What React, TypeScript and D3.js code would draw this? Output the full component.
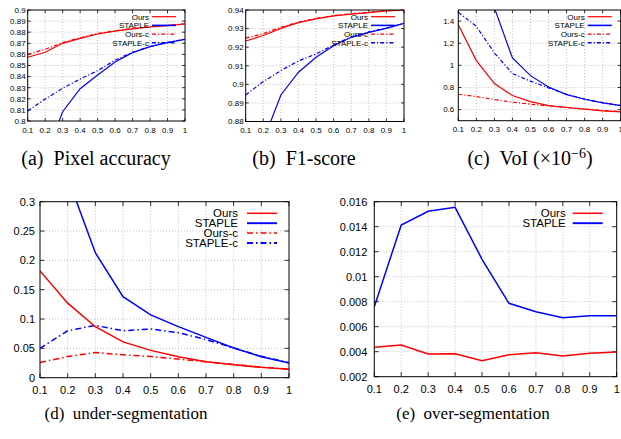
import React, { useRef, useEffect } from "react";
import * as d3 from "d3";

// x axis shared by every panel (threshold)
const X_VALUES = [0.1, 0.2, 0.3, 0.4, 0.5, 0.6, 0.7, 0.8, 0.9, 1];
const X_TICKS = [0.1, 0.2, 0.3, 0.4, 0.5, 0.6, 0.7, 0.8, 0.9, 1];

// (a) pixel accuracy
const A_Y_TICKS = [0.8, 0.81, 0.82, 0.83, 0.84, 0.85, 0.86, 0.87, 0.88, 0.89, 0.9];
const A_OURS = [0.8574, 0.8619, 0.87, 0.8745, 0.8784, 0.881, 0.883, 0.8847, 0.886, 0.8874];
const A_STAPLE = [0.735, 0.7664, 0.8084, 0.8291, 0.8414, 0.8532, 0.8616, 0.867, 0.8706, 0.8736];
const A_OURS_C = [0.86, 0.8646, 0.8706, 0.875, 0.8788, 0.8813, 0.8833, 0.885, 0.8862, 0.8876];
const A_STAPLE_C = [0.809, 0.8198, 0.8294, 0.8378, 0.8453, 0.8548, 0.862, 0.867, 0.8708, 0.8738];

// (b) F1-score
const B_Y_TICKS = [0.88, 0.89, 0.9, 0.91, 0.92, 0.93, 0.94];
const B_OURS = [0.9233, 0.9263, 0.9301, 0.9332, 0.9352, 0.9368, 0.9378, 0.9386, 0.9395, 0.94];
const B_STAPLE = [0.85, 0.8696, 0.8943, 0.9065, 0.9146, 0.9208, 0.9253, 0.928, 0.9301, 0.9328];
const B_OURS_C = [0.9249, 0.9273, 0.9307, 0.9335, 0.9355, 0.937, 0.938, 0.9388, 0.9396, 0.9401];
const B_STAPLE_C = [0.8943, 0.9015, 0.9074, 0.9126, 0.9163, 0.9212, 0.9255, 0.9282, 0.9303, 0.9329];

// (c) VoI
const C_Y_TICKS = [0.6, 0.8, 1, 1.2, 1.4];
const C_OURS = [1.367, 1.043, 0.835, 0.727, 0.673, 0.637, 0.619, 0.604, 0.589, 0.58];
const C_STAPLE = [2.6, 2.0, 1.52, 1.067, 0.907, 0.805, 0.736, 0.694, 0.661, 0.637];
const C_OURS_C = [0.739, 0.718, 0.691, 0.667, 0.649, 0.634, 0.619, 0.605, 0.592, 0.583];
const C_STAPLE_C = [1.48, 1.352, 1.112, 0.926, 0.857, 0.797, 0.739, 0.696, 0.663, 0.638];

// (d) under-segmentation
const D_Y_TICKS = [0, 0.05, 0.1, 0.15, 0.2, 0.25, 0.3];
const D_OURS = [0.182, 0.127, 0.0869, 0.061, 0.0466, 0.0358, 0.0273, 0.022, 0.0176, 0.0142];
const D_STAPLE = [0.46, 0.341, 0.213, 0.138, 0.107, 0.087, 0.0688, 0.0506, 0.0358, 0.025];
const D_OURS_C = [0.026, 0.036, 0.043, 0.039, 0.036, 0.0318, 0.027, 0.0227, 0.018, 0.0148];
const D_STAPLE_C = [0.05, 0.08, 0.0892, 0.08, 0.083, 0.0767, 0.065, 0.0506, 0.0364, 0.0256];

// (e) over-segmentation
const E_Y_TICKS = [0.002, 0.004, 0.006, 0.008, 0.01, 0.012, 0.014, 0.016];
const E_OURS = [0.00435, 0.00453, 0.00381, 0.00384, 0.00328, 0.00376, 0.00392, 0.00365, 0.00387, 0.00397];
const E_STAPLE = [0.0076, 0.01413, 0.01523, 0.01555, 0.01139, 0.00787, 0.0072, 0.00672, 0.00688, 0.00688];

const RED = "#ff0000";
const BLUE = "#0000ff";
const SANS = "'Liberation Sans', Arial, sans-serif";
const SERIF = "'Liberation Serif', 'Times New Roman', serif";

const fourSeries = (ours, staple, oursC, stapleC) => [
  { name: "Ours", values: ours, color: RED, dash: false },
  { name: "STAPLE", values: staple, color: BLUE, dash: false },
  { name: "Ours-c", values: oursC, color: RED, dash: true },
  { name: "STAPLE-c", values: stapleC, color: BLUE, dash: true },
];

const small = {
  font: 8,
  legendFont: 8,
  capFont: 20,
  tick: 3,
  lw: 1.2,
  dashArray: "4,2,1.2,2",
  labelGap: 2,
  xLabelDy: 11.5,
  legendTop: 6.7,
  legendStep: 8.7,
  legendText: 36,
  legendLine: [33, 9],
};
const big = {
  font: 11,
  legendFont: 11.5,
  capFont: 17,
  tick: 4.5,
  lw: 1.5,
  dashArray: "6,3,1.5,3",
  labelGap: 5,
  xLabelDy: 16,
  legendTop: 11.6,
  legendStep: 9.9,
  legendText: 51,
  legendLine: [42, 12],
};

const panels = [
  { ...small, left: 27.7, right: 185, top: 10, bottom: 121, yDomain: [0.8, 0.9], yTicks: A_Y_TICKS,
    series: fourSeries(A_OURS, A_STAPLE, A_OURS_C, A_STAPLE_C), caption: ["(a)", "Pixel accuracy"], capX: 96, capY: 165 },
  { ...small, left: 245.7, right: 404, top: 10, bottom: 121.5, yDomain: [0.88, 0.94], yTicks: B_Y_TICKS,
    series: fourSeries(B_OURS, B_STAPLE, B_OURS_C, B_STAPLE_C), caption: ["(b)", "F1-score"], capX: 304, capY: 165 },
  { ...small, left: 458.3, right: 620.7, top: 10, bottom: 120.7, yDomain: [0.5, 1.5], yTicks: C_Y_TICKS, labelGap: 4,
    series: fourSeries(C_OURS, C_STAPLE, C_OURS_C, C_STAPLE_C), caption: ["(c)", "VoI (×10"], sup: "−6", capX: 530, capY: 165 },
  { ...big, left: 40, right: 289, top: 201.7, bottom: 377.7, yDomain: [0, 0.3], yTicks: D_Y_TICKS,
    series: fourSeries(D_OURS, D_STAPLE, D_OURS_C, D_STAPLE_C), caption: ["(d)", "under-segmentation"], capX: 126, capY: 419 },
  { ...big, left: 374.3, right: 616.7, top: 201.7, bottom: 376.7, yDomain: [0.002, 0.016], yTicks: E_Y_TICKS, labelGap: 7,
    legendLine: [44, 14],
    series: [
      { name: "Ours", values: E_OURS, color: RED, dash: false },
      { name: "STAPLE", values: E_STAPLE, color: BLUE, dash: false },
    ], caption: ["(e)", "over-segmentation"], capX: 473, capY: 419 },
];

const fmt = d3.format("~g");

const drawPanel = (svg, p, idx) => {
  const x = d3.scaleLinear().domain([0.1, 1]).range([p.left, p.right]);
  const y = d3.scaleLinear().domain(p.yDomain).range([p.bottom, p.top]);
  const g = svg.append("g");

  const clipId = "clip-" + idx;
  svg
    .append("clipPath")
    .attr("id", clipId)
    .append("rect")
    .attr("x", p.left)
    .attr("y", p.top)
    .attr("width", p.right - p.left)
    .attr("height", p.bottom - p.top);

  //grid
  const grid = g.append("g").attr("stroke", "#a8a8a8").attr("stroke-width", 0.7).attr("stroke-dasharray", "1,2");
  grid
    .selectAll(".gx")
    .data(X_TICKS.filter((d) => x(d) > p.left + 1 && x(d) < p.right - 1))
    .join("line")
    .attr("x1", (d) => x(d))
    .attr("x2", (d) => x(d))
    .attr("y1", p.top)
    .attr("y2", p.bottom);
  grid
    .selectAll(".gy")
    .data(p.yTicks.filter((d) => y(d) > p.top + 1 && y(d) < p.bottom - 1))
    .join("line")
    .attr("class", "gy")
    .attr("x1", p.left)
    .attr("x2", p.right)
    .attr("y1", (d) => y(d))
    .attr("y2", (d) => y(d));

  //ticks, mirrored on all four sides
  const ticks = g.append("g").attr("stroke", "#000").attr("stroke-width", 0.8);
  X_TICKS.forEach((d) => {
    ticks.append("line").attr("x1", x(d)).attr("x2", x(d)).attr("y1", p.bottom).attr("y2", p.bottom - p.tick);
    ticks.append("line").attr("x1", x(d)).attr("x2", x(d)).attr("y1", p.top).attr("y2", p.top + p.tick);
  });
  p.yTicks.forEach((d) => {
    ticks.append("line").attr("x1", p.left).attr("x2", p.left + p.tick).attr("y1", y(d)).attr("y2", y(d));
    ticks.append("line").attr("x1", p.right).attr("x2", p.right - p.tick).attr("y1", y(d)).attr("y2", y(d));
  });

  //tick labels
  const labels = g.append("g").attr("font-family", SANS).attr("font-size", p.font).attr("fill", "#000");
  labels
    .selectAll(".xl")
    .data(X_TICKS)
    .join("text")
    .attr("x", (d) => x(d))
    .attr("y", p.bottom + p.xLabelDy)
    .attr("text-anchor", "middle")
    .text((d) => fmt(d));
  labels
    .selectAll(".yl")
    .data(p.yTicks)
    .join("text")
    .attr("class", "yl")
    .attr("x", p.left - p.labelGap)
    .attr("y", (d) => y(d))
    .attr("dy", "0.35em")
    .attr("text-anchor", "end")
    .text((d) => fmt(d));

  //curves
  const line = d3
    .line()
    .x((_, i) => x(X_VALUES[i]))
    .y((d) => y(d));
  const curves = g.append("g").attr("clip-path", `url(#${clipId})`);
  [...p.series].reverse().forEach((s) => {
    curves
      .append("path")
      .attr("d", line(s.values))
      .attr("fill", "none")
      .attr("stroke", s.color)
      .attr("stroke-width", p.lw)
      .attr("stroke-dasharray", s.dash ? p.dashArray : null);
  });

  //border
  g.append("rect")
    .attr("x", p.left)
    .attr("y", p.top)
    .attr("width", p.right - p.left)
    .attr("height", p.bottom - p.top)
    .attr("fill", "none")
    .attr("stroke", "#000")
    .attr("stroke-width", 1);

  //legend
  const legend = g.append("g").attr("font-family", SANS).attr("font-size", p.legendFont);
  p.series.forEach((s, i) => {
    const ly = p.top + p.legendTop + i * p.legendStep;
    legend
      .append("text")
      .attr("x", p.right - p.legendText)
      .attr("y", ly)
      .attr("dy", "0.35em")
      .attr("text-anchor", "end")
      .text(s.name);
    legend
      .append("line")
      .attr("x1", p.right - p.legendLine[0])
      .attr("x2", p.right - p.legendLine[1])
      .attr("y1", ly)
      .attr("y2", ly)
      .attr("stroke", s.color)
      .attr("stroke-width", s.color === BLUE ? p.lw + 0.4 : p.lw)
      .attr("stroke-dasharray", s.dash ? p.dashArray : null);
  });

  //caption
  const cap = svg
    .append("text")
    .attr("x", p.capX)
    .attr("y", p.capY)
    .attr("text-anchor", "middle")
    .attr("font-family", SERIF)
    .attr("font-size", p.capFont)
    .attr("fill", "#000");
  cap.append("tspan").text(p.caption[0] + "\u2002" + p.caption[1]);
  if (p.sup) {
    cap.append("tspan").attr("dy", -7).attr("font-size", p.capFont * 0.7).text(p.sup);
    cap.append("tspan").attr("dy", 7).text(")");
  }
};

const App = () => {
  const svgRef = useRef(null);

  useEffect(() => {
    svgRef.current.innerHTML = "";
    const svg = d3.select(svgRef.current);
    panels.forEach((p, i) => drawPanel(svg, p, i));
  }, []);

  return (
    <svg
      ref={svgRef}
      width={621}
      height={439}
      style={{ position: "absolute", left: 0, top: 0, background: "#fff" }}
    ></svg>
  );
};

export default App;
